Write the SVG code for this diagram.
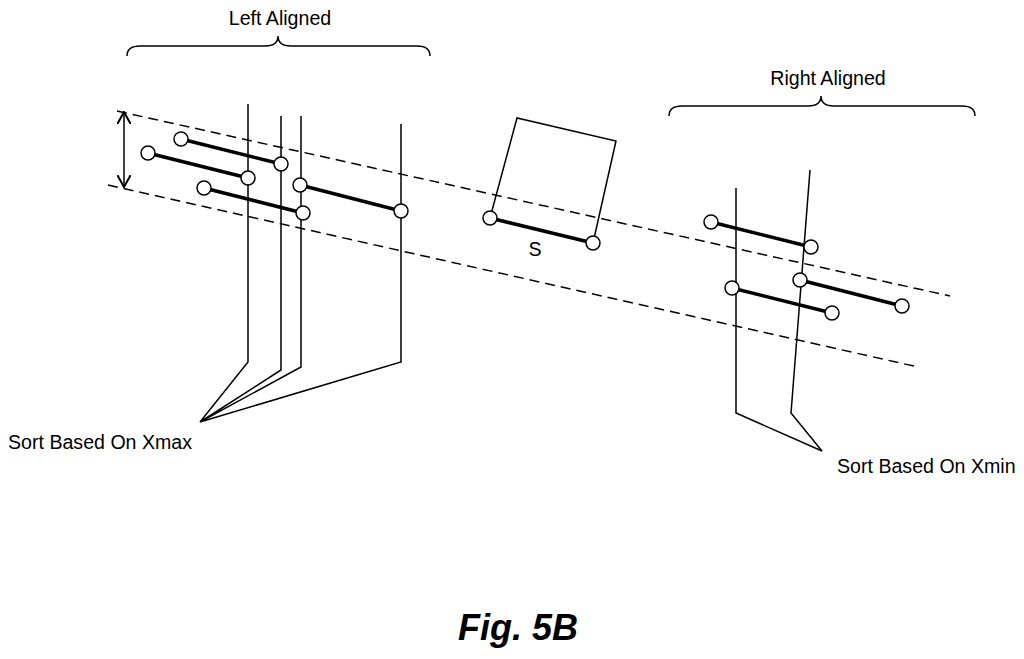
<svg xmlns="http://www.w3.org/2000/svg" width="1024" height="659" viewBox="0 0 1024 659">
<style>
.t{font-family:"Liberation Sans",Arial,sans-serif;font-size:19.6px;fill:#000}
.ln{stroke:#000;stroke-width:1.5;fill:none}
.seg{stroke:#000;stroke-width:3.5}
.d{stroke:#000;stroke-width:1.5;stroke-dasharray:10,6;fill:none}
circle{fill:#fff;stroke:#000;stroke-width:1.5}
</style>
<defs><marker id="ah" viewBox="0 0 10 10" refX="9" refY="5" markerWidth="9" markerHeight="9" orient="auto-start-reverse"><path d="M0,0L9,5L0,10" fill="none" stroke="#000" stroke-width="1.5"/></marker></defs>
<rect width="1024" height="659" fill="#fff"/>
<g id="connectors">
<path class="d" d="M117,111L950,296"/>
<path class="d" d="M108,185L918,367"/>
<path class="ln" d="M124,112L124,187" marker-start="url(#ah)" marker-end="url(#ah)"/>
<path class="ln" d="M248,104V362L200,422L281,370V116M200,422L301,367V116M200,422L401,362V124"/>
<path class="ln" d="M736,188V413L822,451L791,413L810,170"/>
<path class="ln" d="M127,56Q127,46 140,46H265Q278,46 278,36Q278,46 291,46H417Q430,46 430,56"/>
<path class="ln" d="M669,116Q669,106 682,106H808Q821,106 821,96Q821,106 834,106H962Q975,106 975,116"/>
</g>
<g id="left-segments">
<line class="seg" x1="181" y1="139" x2="281" y2="164"/><circle cx="181" cy="139" r="7"/><circle cx="281" cy="164" r="7"/>
<line class="seg" x1="148" y1="153" x2="248" y2="178"/><circle cx="148" cy="153" r="7"/><circle cx="248" cy="178" r="7"/>
<line class="seg" x1="204" y1="188" x2="303" y2="213"/><circle cx="204" cy="188" r="7"/><circle cx="303" cy="213" r="7"/>
<line class="seg" x1="300" y1="185" x2="401" y2="211"/><circle cx="300" cy="185" r="7"/><circle cx="401" cy="211" r="7"/>
</g>
<g id="s-node">
<path class="ln" d="M490,218L517,118L616,141L593,243"/>
<line class="seg" x1="490" y1="218" x2="593" y2="243"/><circle cx="490" cy="218" r="7"/><circle cx="593" cy="243" r="7"/>
<text class="t" x="535" y="256" text-anchor="middle">S</text>
</g>
<g id="right-segments">
<line class="seg" x1="711" y1="222" x2="811" y2="247"/><circle cx="711" cy="222" r="7"/><circle cx="811" cy="247" r="7"/>
<line class="seg" x1="800" y1="280" x2="902" y2="306"/><circle cx="800" cy="280" r="7"/><circle cx="902" cy="306" r="7"/>
<line class="seg" x1="732" y1="288" x2="832" y2="313"/><circle cx="732" cy="288" r="7"/><circle cx="832" cy="313" r="7"/>
</g>
<g id="labels">
<text class="t" x="280" y="25" text-anchor="middle">Left Aligned</text>
<text class="t" x="828" y="85" text-anchor="middle">Right Aligned</text>
<text class="t" x="8" y="449">Sort Based On Xmax</text>
<text class="t" x="837" y="473">Sort Based On Xmin</text>
<text x="518" y="640" text-anchor="middle" style="font-family:'Liberation Sans',Arial,sans-serif;font-size:36px;font-weight:bold;font-style:italic">Fig. 5B</text>
</g>
</svg>
